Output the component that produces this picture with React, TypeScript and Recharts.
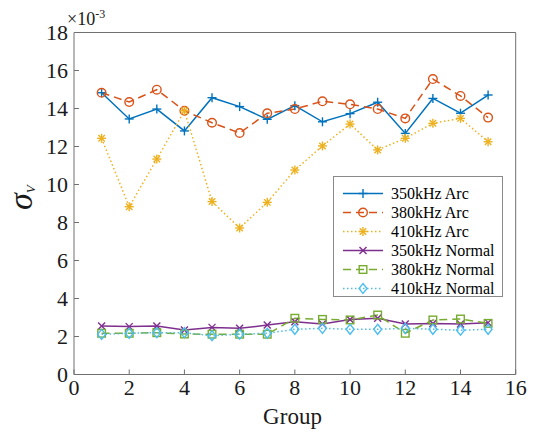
import React from "react";
import { LineChart, Line, XAxis, YAxis, Legend } from "recharts";

const groups = [1, 2, 3, 4, 5, 6, 7, 8, 9, 10, 11, 12, 13, 14, 15];
const arc350 = [14.83, 13.45, 13.97, 12.82, 14.57, 14.1, 13.43, 14.15, 13.3, 13.73, 14.33, 12.69, 14.53, 13.75, 14.71];
const arc380 = [14.83, 14.34, 14.99, 13.88, 13.25, 12.71, 13.75, 13.97, 14.38, 14.22, 13.97, 13.48, 15.55, 14.66, 13.52];
const arc410 = [12.43, 8.83, 11.34, 13.88, 9.1, 7.71, 9.06, 10.76, 12.03, 13.18, 11.82, 12.43, 13.22, 13.48, 12.25];
const normal350 = [2.55, 2.52, 2.55, 2.34, 2.48, 2.43, 2.6, 2.78, 2.66, 2.9, 2.96, 2.66, 2.69, 2.66, 2.73];
const normal380 = [2.17, 2.17, 2.2, 2.13, 2.12, 2.12, 2.12, 2.96, 2.9, 2.87, 3.13, 2.17, 2.87, 2.92, 2.69];
const normal410 = [2.11, 2.17, 2.2, 2.2, 2.04, 2.12, 2.17, 2.38, 2.43, 2.38, 2.38, 2.43, 2.38, 2.33, 2.38];

const xTicks = [0, 2, 4, 6, 8, 10, 12, 14, 16];
const yTicks = [0, 2, 4, 6, 8, 10, 12, 14, 16, 18];

type Shape = "plus" | "circle" | "star" | "cross" | "square" | "diamond";

const series: { key: string; name: string; color: string; dash?: string; shape: Shape }[] = [
  { key: "arc350", name: "350kHz Arc", color: "#0072BD", shape: "plus" },
  { key: "arc380", name: "380kHz Arc", color: "#D95319", dash: "8 5", shape: "circle" },
  { key: "arc410", name: "410kHz Arc", color: "#EDB120", dash: "1.5 2.5", shape: "star" },
  { key: "normal350", name: "350kHz Normal", color: "#7E2F8E", shape: "cross" },
  { key: "normal380", name: "380kHz Normal", color: "#77AC30", dash: "8 5", shape: "square" },
  { key: "normal410", name: "410kHz Normal", color: "#4DBEEE", dash: "1.5 2.5", shape: "diamond" },
];

const data = groups.map((g, i) => ({
  group: g,
  arc350: arc350[i],
  arc380: arc380[i],
  arc410: arc410[i],
  normal350: normal350[i],
  normal380: normal380[i],
  normal410: normal410[i],
}));

const FONT = "Liberation Serif";
const AXIS = "#707070";

function Marker({ cx, cy, shape, color }: { cx: number; cy: number; shape: Shape; color: string }) {
  const s = { stroke: color, strokeWidth: 1.4, fill: "none" };
  const r = 4.5;
  switch (shape) {
    case "plus":
      return (
        <g {...s}>
          <line x1={cx - r} x2={cx + r} y1={cy} y2={cy} />
          <line x1={cx} x2={cx} y1={cy - r} y2={cy + r} />
        </g>
      );
    case "circle":
      return <circle cx={cx} cy={cy} r={4.3} {...s} />;
    case "star": {
      const d = r * 0.72;
      return (
        <g {...s}>
          <line x1={cx - r} x2={cx + r} y1={cy} y2={cy} />
          <line x1={cx} x2={cx} y1={cy - r} y2={cy + r} />
          <line x1={cx - d} x2={cx + d} y1={cy - d} y2={cy + d} />
          <line x1={cx - d} x2={cx + d} y1={cy + d} y2={cy - d} />
        </g>
      );
    }
    case "cross": {
      const d = 3.5;
      return (
        <g {...s}>
          <line x1={cx - d} x2={cx + d} y1={cy - d} y2={cy + d} />
          <line x1={cx - d} x2={cx + d} y1={cy + d} y2={cy - d} />
        </g>
      );
    }
    case "square":
      return <rect x={cx - 3.8} y={cy - 3.8} width={7.6} height={7.6} {...s} />;
    case "diamond":
      return <polygon points={`${cx},${cy - 5} ${cx + 4},${cy} ${cx},${cy + 5} ${cx - 4},${cy}`} {...s} />;
  }
  return null;
}

const renderLegend = () => (
  <div
    style={{
      width: 170,
      height: 121,
      boxSizing: "border-box",
      border: "1px solid #8a8a8a",
      background: "#fff",
      paddingTop: 7,
      fontFamily: FONT,
      fontSize: 16,
      color: "#000",
    }}
  >
    {series.map((s) => (
      <div key={s.key} style={{ display: "flex", alignItems: "center", height: 19 }}>
        <svg width={50} height={19} style={{ flex: "none" }}>
          <line x1={9} x2={49} y1={9.5} y2={9.5} stroke={s.color} strokeWidth={1.5} strokeDasharray={s.dash} />
          <Marker cx={29} cy={9.5} shape={s.shape} color={s.color} />
        </svg>
        <span style={{ marginLeft: 7, lineHeight: "19px", whiteSpace: "nowrap", fontFamily: FONT }}>{s.name}</span>
      </div>
    ))}
  </div>
);

const tickStyle = { fill: "#1a1a1a", fontSize: 22, fontFamily: FONT, style: { fontFamily: FONT } };

export default function App() {
  return (
    <div
      style={{ position: "absolute", left: 0, top: 0, width: 540, height: 434, background: "#fff", fontFamily: FONT }}
    >
      <LineChart
        width={540}
        height={434}
        data={data}
        margin={{ top: 31.5, right: 23.3, bottom: 0, left: 14 }}
        style={{ fontFamily: FONT }}
      >
        <XAxis
          type="number"
          dataKey="group"
          domain={[0, 16]}
          ticks={xTicks}
          height={59.5}
          stroke={AXIS}
          tickSize={-5}
          tickMargin={10}
          tick={tickStyle}
          label={{
            content: () => (
              <text x={292.5} y={424} textAnchor="middle" style={{ fontFamily: FONT }} fontSize={23} fill="#1a1a1a">
                Group
              </text>
            ),
          }}
        />
        <XAxis
          xAxisId="top"
          orientation="top"
          type="number"
          domain={[0, 16]}
          ticks={xTicks}
          height={1}
          stroke={AXIS}
          tickSize={-5}
          tick={false}
          label={{
            content: () => (
              <text x={67} y={25} style={{ fontFamily: FONT }} fill="#1a1a1a">
                <tspan fontSize={18}>×10</tspan>
                <tspan fontSize={12} dy={-7}>-3</tspan>
              </text>
            ),
          }}
        />
        <YAxis
          type="number"
          domain={[0, 18]}
          ticks={yTicks}
          width={60}
          stroke={AXIS}
          tickSize={-5}
          tickMargin={11}
          tick={tickStyle}
          label={{
            content: () => (
              <text x={32} y={210} transform="rotate(-90, 32, 210)" style={{ fontFamily: FONT }} fill="#1a1a1a">
                <tspan fontSize={34} fontStyle="italic">σ</tspan>
                <tspan fontSize={13} fontStyle="italic" dy={3}>V</tspan>
              </text>
            ),
          }}
        />
        <YAxis
          yAxisId="right"
          orientation="right"
          type="number"
          domain={[0, 18]}
          ticks={yTicks}
          width={1}
          stroke={AXIS}
          tickSize={-5}
          tick={false}
        />
        {series.map((s) => (
          <Line
            key={s.key}
            type="linear"
            dataKey={s.key}
            name={s.name}
            stroke={s.color}
            strokeWidth={1.5}
            strokeDasharray={s.dash}
            isAnimationActive={false}
            dot={(p: any) => <Marker key={`${s.key}-${p.index}`} cx={p.cx} cy={p.cy} shape={s.shape} color={s.color} />}
            activeDot={false}
          />
        ))}
        <Legend
          layout="vertical"
          align="center"
          verticalAlign="middle"
          content={renderLegend}
          wrapperStyle={{ position: "absolute", left: 333, top: 176, width: 170, height: 121 }}
        />
      </LineChart>
    </div>
  );
}
